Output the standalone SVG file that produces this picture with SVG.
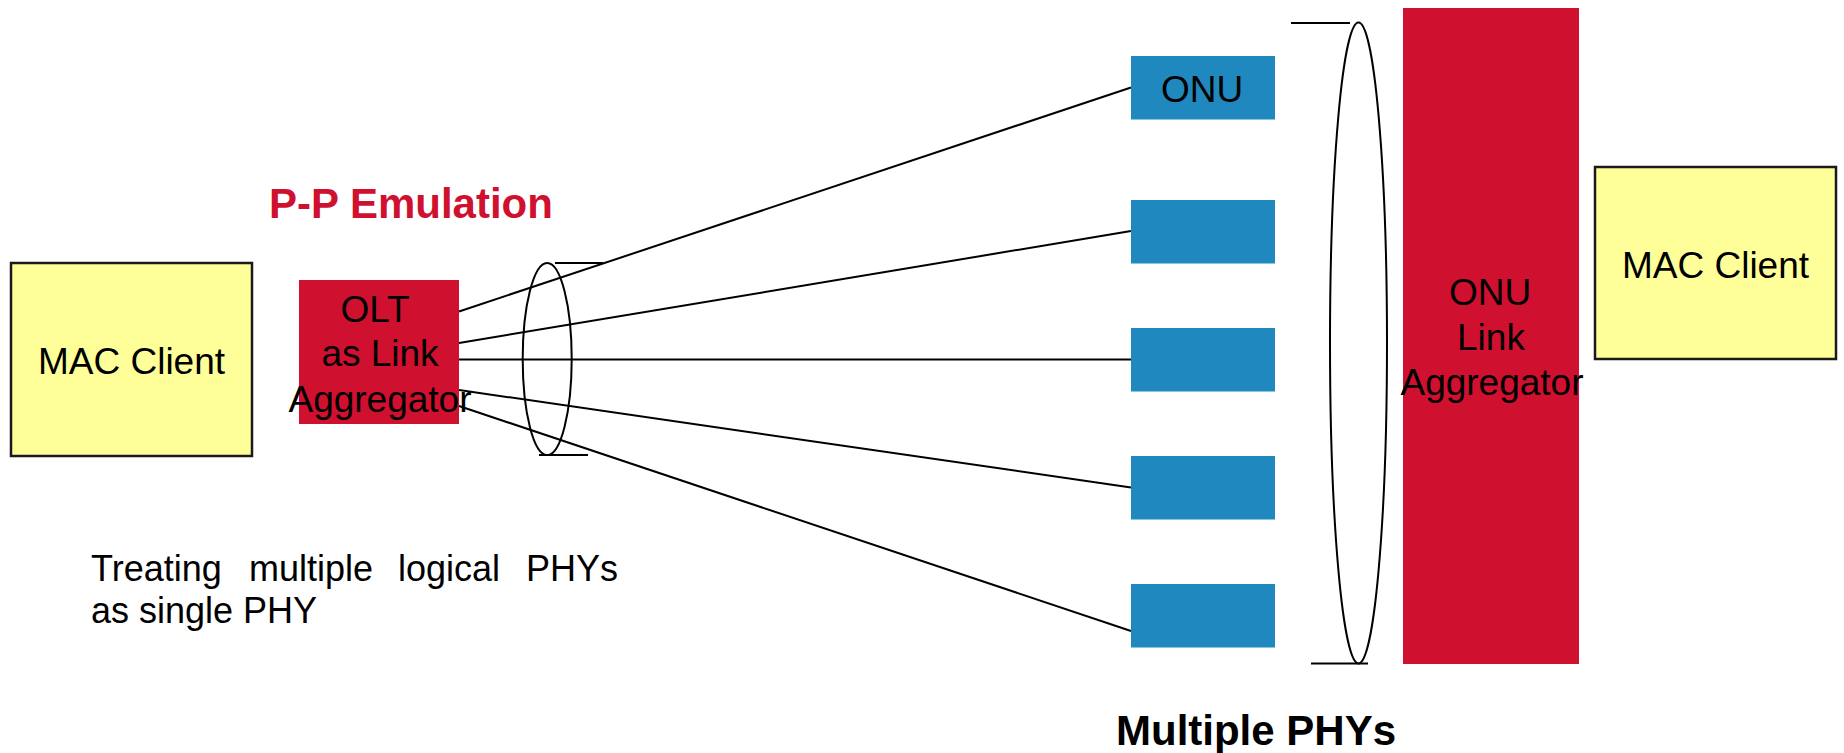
<svg xmlns="http://www.w3.org/2000/svg" width="1844" height="753" viewBox="0 0 1844 753">
  <style>
    .client { fill: #FFFF99; stroke: #1a1a1a; stroke-width: 2.5; }
    .agg { fill: #D0102F; }
    .phy { fill: #1F88BE; }
    .wire { stroke: #000; stroke-width: 2; fill: none; }
    .lbl { font-family: "Liberation Sans", Arial, sans-serif; font-size: 37px; fill: #000; text-anchor: middle; }
    .head { font-family: "Liberation Sans", Arial, sans-serif; font-size: 42px; font-weight: bold; }
    .note { font-family: "Liberation Sans", Arial, sans-serif; font-size: 36px; fill: #000; }
  </style>
  <rect width="1844" height="753" fill="#fff"/>

  <!-- fibre links from the OLT to each ONU -->
  <g id="connectors" class="wire">
    <line x1="459" y1="311.5" x2="1131" y2="87.5"/>
    <line x1="459" y1="343" x2="1131" y2="231"/>
    <line x1="459" y1="359.5" x2="1131" y2="359.5"/>
    <line x1="459" y1="390" x2="1131" y2="487.5"/>
    <line x1="459" y1="406" x2="1131" y2="631"/>
  </g>

  <g id="mac-client-left">
    <rect class="client" x="11" y="263" width="241" height="193"/>
    <text class="lbl" x="131.5" y="374">MAC Client</text>
  </g>

  <g id="olt-aggregator">
    <rect class="agg" x="299" y="280" width="160" height="144"/>
    <text class="lbl" x="375" y="321.5">OLT</text>
    <text class="lbl" x="380" y="365.5">as Link</text>
    <text class="lbl" x="380" y="411.5">Aggregator</text>
  </g>

  <g id="pp-emulation-label">
    <text class="head" x="269" y="218" fill="#D0102F">P-P Emulation</text>
  </g>

  <!-- bundle marker around the OLT-side links -->
  <g id="olt-bundle" class="wire">
    <ellipse cx="547.2" cy="359" rx="24.5" ry="96"/>
    <line x1="555" y1="263" x2="603" y2="263"/>
    <line x1="539" y1="455" x2="588" y2="455"/>
  </g>

  <g id="onu-1">
    <rect class="phy" x="1131" y="56" width="144" height="63.5"/>
    <text class="lbl" x="1202" y="101.5">ONU</text>
  </g>
  <g id="onu-2">
    <rect class="phy" x="1131" y="200" width="144" height="63.5"/>
  </g>
  <g id="onu-3">
    <rect class="phy" x="1131" y="328" width="144" height="63.5"/>
  </g>
  <g id="onu-4">
    <rect class="phy" x="1131" y="456" width="144" height="63.5"/>
  </g>
  <g id="onu-5">
    <rect class="phy" x="1131" y="584" width="144" height="63.5"/>
  </g>

  <!-- bundle marker around the ONU PHYs -->
  <g id="onu-bundle" class="wire">
    <ellipse cx="1358.5" cy="343" rx="28.5" ry="320.5"/>
    <line x1="1291" y1="23" x2="1350" y2="23"/>
    <line x1="1311" y1="663.5" x2="1368" y2="663.5"/>
  </g>

  <g id="onu-link-aggregator">
    <rect class="agg" x="1403" y="8" width="176" height="656"/>
    <text class="lbl" x="1490" y="305">ONU</text>
    <text class="lbl" x="1491" y="349.5">Link</text>
    <text class="lbl" x="1492" y="395">Aggregator</text>
  </g>

  <g id="mac-client-right">
    <rect class="client" x="1595" y="167" width="241" height="192"/>
    <text class="lbl" x="1715.5" y="277.5">MAC Client</text>
  </g>

  <g id="multiple-phys-label">
    <text class="head" x="1116" y="745" fill="#000">Multiple PHYs</text>
  </g>

  <!-- justified caption: first line spread word by word -->
  <g id="treating-note">
    <text class="note" y="580.5"><tspan x="91">Treating</tspan><tspan x="249">multiple</tspan><tspan x="398">logical</tspan><tspan x="526">PHYs</tspan></text>
    <text class="note" x="91" y="623">as single PHY</text>
  </g>
</svg>
